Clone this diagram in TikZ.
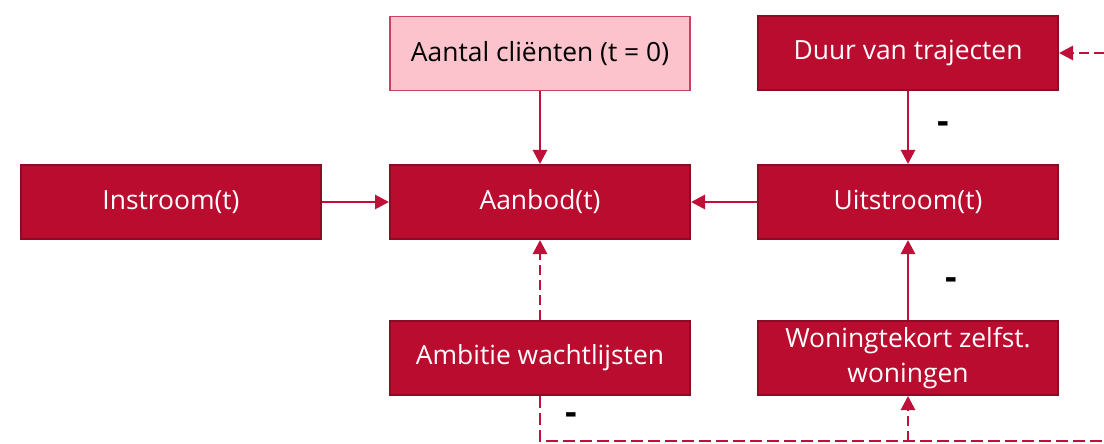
\documentclass[tikz,border=0pt]{standalone}
\usepackage{fontspec}
\setmainfont{Open Sans}
\usepackage{xcolor}
\usepackage{tikz}
\usetikzlibrary{calc,arrows.meta,positioning}
\definecolor{donkerrood}{HTML}{BA0C2F}
\definecolor{randrood}{HTML}{8E0B25}
\definecolor{roze}{HTML}{FCC3CD}
\definecolor{pijlrood}{HTML}{C0103A}
\tikzset{
  blok/.style={rectangle, draw=randrood, line width=1pt, fill=donkerrood, text=white, minimum width=150pt, minimum height=37pt, inner sep=2pt, align=center, font=\fontsize{13.2}{17.5}\selectfont},
  startblok/.style={blok, draw=pijlrood!80, line width=0.6pt, fill=roze, text=black},
  pijl/.style={draw=pijlrood, line width=1.4pt, -{Triangle[length=7pt,width=7pt]}},
  stippel/.style={pijl, dash pattern=on 5pt off 2.5pt},
  lijn/.style={draw=pijlrood, line width=1.4pt, dash pattern=on 6pt off 2.5pt},
  teken/.style={font=\fontsize{18}{18}\selectfont\bfseries, text=black, inner sep=0pt}
}
\begin{document}
\begin{tikzpicture}
  \useasboundingbox (0,0) rectangle (552pt,-222pt);
  \node[blok] (aanbod) at (270pt,-101pt) {Aanbod(t)};
  \node[blok, left=33.5pt of aanbod] (instroom) {Instroom(t)};
  \node[blok, right=33pt of aanbod] (uitstroom) {Uitstroom(t)};
  \node[startblok, above=36.5pt of aanbod] (aantal) {Aantal cliënten (t = 0)};
  \node[blok, above=36.5pt of uitstroom] (duur) {Duur van trajecten};
  \node[blok, below=40pt of aanbod] (ambitie) {Ambitie wachtlijsten};
  \node[blok, below=40pt of uitstroom] (woning) {Woningtekort zelfst.\\woningen};
  % rand van het plaatje
  \coordinate (rand) at (552pt,0);
  \coordinate (lus) at ($(ambitie.south)+(0,-22.5pt)$);

  \draw[pijl] (aantal) -- (aanbod);
  \draw[pijl] (instroom) -- (aanbod);
  \draw[pijl] (uitstroom) -- (aanbod);
  \draw[pijl] (duur) -- node[teken, right=14pt] {-} (uitstroom);
  \draw[pijl] (woning) -- node[teken, right=18pt, pos=0.45] {-} (uitstroom);
  \draw[stippel] (ambitie) -- (aanbod);
  \draw[stippel] (duur.east -| rand) -- (duur.east);
  % terugkoppeling onderaan
  \draw[lijn] (ambitie.south) -- node[teken, right=12pt] {-} (lus) -- (lus -| rand);
  \draw[stippel] (woning.south |- lus) -- (woning.south);
\end{tikzpicture}
\end{document}
